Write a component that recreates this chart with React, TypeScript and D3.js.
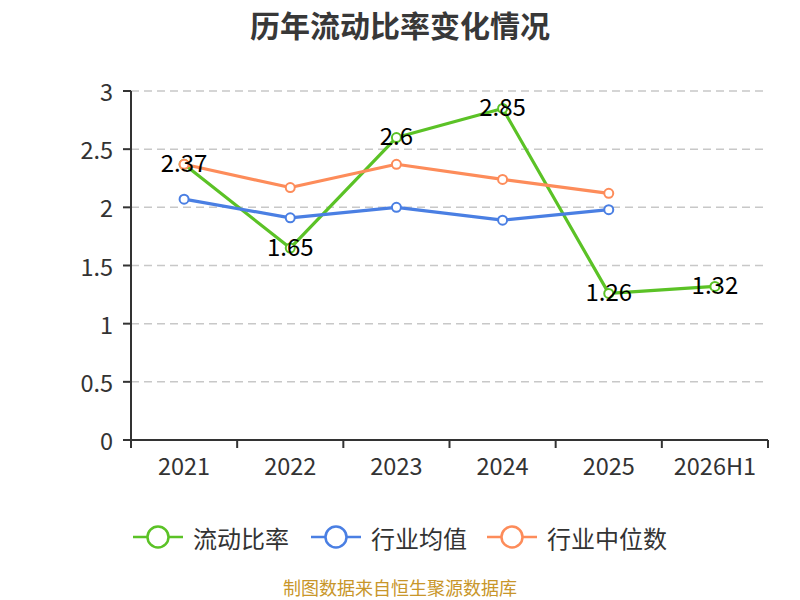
import React from "react";
import * as d3 from "d3";

const categories = ["2021", "2022", "2023", "2024", "2025", "2026H1"];
const currentRatio = [2.37, 1.65, 2.6, 2.85, 1.26, 1.32];
const industryMean = [2.07, 1.91, 2.0, 1.89, 1.98];
const industryMedian = [2.37, 2.17, 2.37, 2.24, 2.12];
const yTicks = [0, 0.5, 1, 1.5, 2, 2.5, 3];
const seriesNames = ["流动比率", "行业均值", "行业中位数"];
const colors = ["#5bc226", "#4a7fe3", "#fd8c5a"];

const FONT = "'Noto Sans CJK SC', 'Noto Sans', sans-serif";

export default function App() {
  const W = 800;
  const H = 600;
  const left = 131;
  const right = 768;
  const top = 91;
  const bottom = 440;

  const x = d3.scaleBand<string>().domain(categories).range([left, right]);
  const y = d3.scaleLinear().domain([0, 3]).range([bottom, top]);
  const cx = (c: string) => (x(c) as number) + x.bandwidth() / 2;

  const series = [currentRatio, industryMean, industryMedian];
  const line = d3
    .line<number>()
    .x((_, i) => cx(categories[i]))
    .y((d) => y(d));

  const legendItems = [
    { name: seriesNames[0], color: colors[0], x: 133 },
    { name: seriesNames[1], color: colors[1], x: 311 },
    { name: seriesNames[2], color: colors[2], x: 487 },
  ];
  const legendY = 537;

  return (
    <svg
      width={W}
      height={H}
      style={{ position: "absolute", left: 0, top: 0, background: "#fff" }}
      fontFamily={FONT}
    >
      <rect x={0} y={0} width={W} height={H} fill="#fff" />
      <text
        x={400}
        y={24}
        textAnchor="middle"
        dominantBaseline="central"
        fontSize={30}
        fontWeight="bold"
        fill="#383838"
      >
        历年流动比率变化情况
      </text>

      {yTicks
        .filter((t) => t !== 0)
        .map((t) => (
          <line
            key={"g" + t}
            x1={left}
            x2={right}
            y1={y(t)}
            y2={y(t)}
            stroke="#c8c8c8"
            strokeWidth={1.5}
            strokeDasharray="8,5"
          />
        ))}

      <line x1={left} x2={left} y1={top} y2={bottom} stroke="#333" strokeWidth={2} />
      {yTicks.map((t) => (
        <g key={"y" + t}>
          <line x1={left - 8} x2={left} y1={y(t)} y2={y(t)} stroke="#333" strokeWidth={2} />
          <text
            x={left - 18}
            y={y(t)}
            textAnchor="end"
            dominantBaseline="central"
            fontSize={23.5}
            fill="#333"
          >
            {String(t)}
          </text>
        </g>
      ))}

      <line x1={left} x2={right} y1={bottom} y2={bottom} stroke="#333" strokeWidth={2} />
      {categories.map((c) => (
        <line
          key={"xt" + c}
          x1={x(c) as number}
          x2={x(c) as number}
          y1={bottom}
          y2={bottom + 8}
          stroke="#333"
          strokeWidth={2}
        />
      ))}
      <line x1={right} x2={right} y1={bottom} y2={bottom + 8} stroke="#333" strokeWidth={2} />
      {categories.map((c) => (
        <text
          key={"xl" + c}
          x={cx(c)}
          y={465}
          textAnchor="middle"
          dominantBaseline="central"
          fontSize={23.5}
          fill="#333"
        >
          {c}
        </text>
      ))}

      {series.map((s, si) => (
        <g key={"s" + si}>
          <path d={line(s) || ""} fill="none" stroke={colors[si]} strokeWidth={3.2} strokeLinejoin="round" />
          {s.map((v, i) => (
            <circle
              key={i}
              cx={cx(categories[i])}
              cy={y(v)}
              r={4.5}
              fill="#fff"
              stroke={colors[si]}
              strokeWidth={2}
            />
          ))}
        </g>
      ))}

      {currentRatio.map((v, i) => (
        <text
          key={"dl" + i}
          x={cx(categories[i])}
          y={y(v) - 3}
          textAnchor="middle"
          dominantBaseline="central"
          fontSize={24}
          fill="#000"
        >
          {String(v)}
        </text>
      ))}

      {legendItems.map((it) => (
        <g key={it.name}>
          <line x1={it.x} x2={it.x + 50} y1={legendY} y2={legendY} stroke={it.color} strokeWidth={2.5} />
          <circle cx={it.x + 25} cy={legendY} r={10.5} fill="#fff" stroke={it.color} strokeWidth={2.5} />
          <text
            x={it.x + 60}
            y={legendY}
            dominantBaseline="central"
            fontSize={24}
            fill="#333"
          >
            {it.name}
          </text>
        </g>
      ))}

      <text
        x={400}
        y={587}
        textAnchor="middle"
        dominantBaseline="central"
        fontSize={18}
        fill="#c8962a"
      >
        制图数据来自恒生聚源数据库
      </text>
    </svg>
  );
}
